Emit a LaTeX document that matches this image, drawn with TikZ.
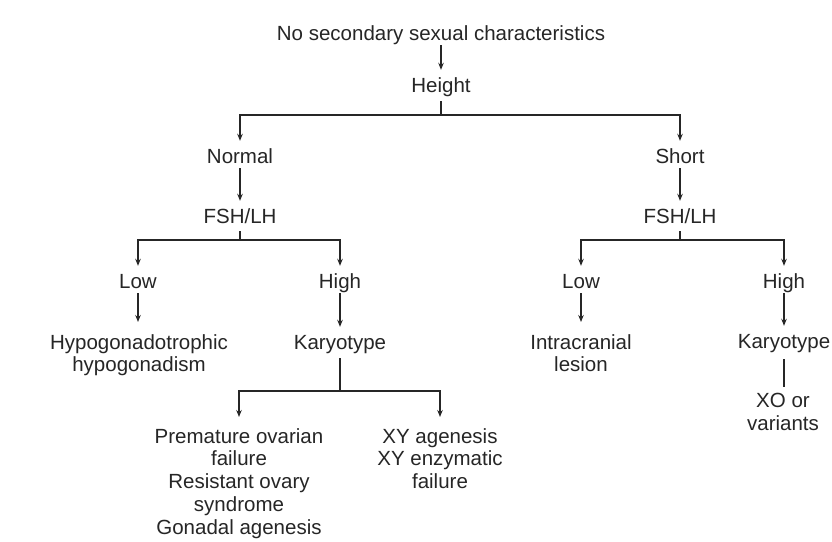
\documentclass[tikz,border=0pt]{standalone}
\usepackage{fontspec}
\setmainfont{Liberation Sans}
\usetikzlibrary{arrows.meta}
\begin{document}
\begin{tikzpicture}[x=1pt,y=-1pt,
  lbl/.style={inner xsep=0pt, inner ysep=1pt, align=center, text=black!85,
    font=\fontsize{20.5}{22.8}\selectfont, text height=14pt, text depth=4pt},
  mlbl/.style={inner xsep=0pt, inner ysep=1pt, align=center, text=black!85,
    font=\fontsize{20.5}{22.8}\selectfont, anchor=north},
  conn/.style={draw=black!85, line width=1.2pt},
  arr/.style={conn, -{Stealth[length=7pt,width=5.5pt]}, shorten >=7pt}]
\useasboundingbox (0,0) rectangle (832,541);
\fill[white] (0,0) rectangle (832,541);

\node[lbl] (top) at (441,35) {No secondary sexual characteristics};
\node[lbl] (height) at (441,87) {Height};
\node[lbl] (normal) at (240,158) {Normal};
\node[lbl] (short) at (680,158) {Short};
\node[lbl] (fshL) at (240,218) {FSH/LH};
\node[lbl] (fshR) at (680,218) {FSH/LH};
\node[lbl] (lowL) at (138,283) {Low};
\node[lbl] (highL) at (340,283) {High};
\node[lbl] (lowR) at (581,283) {Low};
\node[lbl] (highR) at (784,283) {High};
\node[mlbl] (hypo) at (139,333) {Hypogonadotrophic\\hypogonadism};
\node[lbl] (karL) at (340,344) {Karyotype};
\node[mlbl] (intra) at (581,333) {Intracranial\\lesion};
\node[lbl] (karR) at (784,343) {Karyotype};
\node[mlbl] (xo) at (783,392) {XO or\\variants};
\node[mlbl] (pof) at (239,427) {Premature ovarian\\failure\\Resistant ovary\\syndrome\\Gonadal agenesis};
\node[mlbl] (xy) at (440,427) {XY agenesis\\XY enzymatic\\failure};

\coordinate (hj) at (441,115);
\coordinate (fj1) at (240,240);
\coordinate (fj2) at (680,240);
\coordinate (kj) at (340,391);

\draw[arr] (top.south) -- (height.north);
\draw[conn, shorten <=4pt] (height.south) -- (hj);
\draw[arr] (hj) -| (normal.north);
\draw[arr] (hj) -| (short.north);

\draw[arr] (normal.south) -- (fshL.north);
\draw[conn, shorten <=3pt] (fshL.south) -- (fj1);
\draw[arr] (fj1) -| (lowL.north);
\draw[arr] (fj1) -| (highL.north);
\draw[arr, shorten >=11pt] (lowL.south) -- (lowL.south |- hypo.north);
\draw[arr] (highL.south) -- (karL.north);
\draw[conn, shorten <=4pt] (karL.south) -- (kj);
\draw[arr, shorten >=10pt] (kj) -| (pof.north);
\draw[arr, shorten >=10pt] (kj) -| (xy.north);

\draw[arr] (short.south) -- (fshR.north);
\draw[conn, shorten <=3pt] (fshR.south) -- (fj2);
\draw[arr] (fj2) -| (lowR.north);
\draw[arr] (fj2) -| (highR.north);
\draw[arr, shorten >=11pt] (lowR.south) -- (intra.north);
\draw[arr] (highR.south) -- (karR.north);
\draw[conn, shorten <=6pt, shorten >=5pt] (karR.south) -- (karR.south |- xo.north);
\end{tikzpicture}
\end{document}
